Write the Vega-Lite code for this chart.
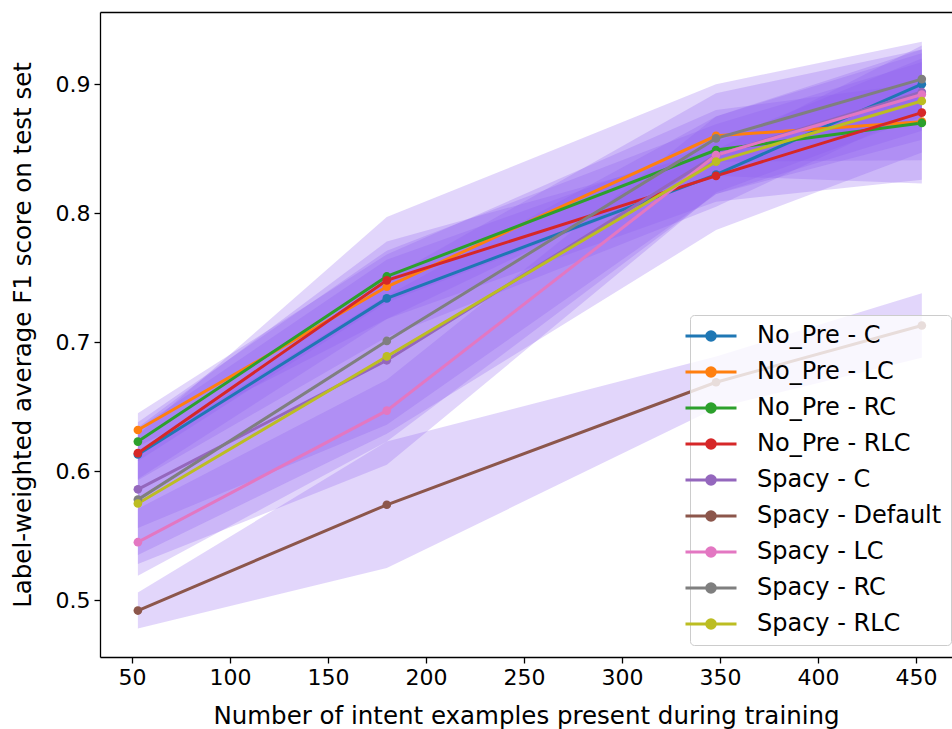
{
  "$schema": "https://vega.github.io/schema/vega-lite/v6.json",
  "width": 852,
  "height": 645,
  "autosize": {"type": "none"},
  "padding": {"left": 100, "top": 12, "right": 0, "bottom": 72},
  "background": "white",
  "config": {
    "view": {"stroke": null},
    "font": "DejaVu Sans",
    "axis": {
      "domainColor": "black", "domainWidth": 1.3, "tickColor": "black", "tickWidth": 1.3, "tickSize": 6,
      "labelColor": "black", "labelFontSize": 22, "titleFontSize": 24.5, "titleFontWeight": "normal",
      "titleColor": "black", "grid": false, "labelFont": "DejaVu Sans", "titleFont": "DejaVu Sans"
    }
  },
  "data": {"values": [
    {"series": "No_Pre - C", "n": 53, "mean": 0.613, "lo": 0.593, "hi": 0.633},
    {"series": "No_Pre - C", "n": 180, "mean": 0.734, "lo": 0.704, "hi": 0.764},
    {"series": "No_Pre - C", "n": 348, "mean": 0.830, "lo": 0.805, "hi": 0.855},
    {"series": "No_Pre - C", "n": 453, "mean": 0.900, "lo": 0.880, "hi": 0.920},
    {"series": "No_Pre - LC", "n": 53, "mean": 0.632, "lo": 0.619, "hi": 0.645},
    {"series": "No_Pre - LC", "n": 180, "mean": 0.743, "lo": 0.718, "hi": 0.768},
    {"series": "No_Pre - LC", "n": 348, "mean": 0.860, "lo": 0.840, "hi": 0.880},
    {"series": "No_Pre - LC", "n": 453, "mean": 0.871, "lo": 0.841, "hi": 0.901},
    {"series": "No_Pre - RC", "n": 53, "mean": 0.623, "lo": 0.608, "hi": 0.638},
    {"series": "No_Pre - RC", "n": 180, "mean": 0.751, "lo": 0.731, "hi": 0.771},
    {"series": "No_Pre - RC", "n": 348, "mean": 0.849, "lo": 0.829, "hi": 0.869},
    {"series": "No_Pre - RC", "n": 453, "mean": 0.870, "lo": 0.823, "hi": 0.917},
    {"series": "No_Pre - RLC", "n": 53, "mean": 0.614, "lo": 0.594, "hi": 0.634},
    {"series": "No_Pre - RLC", "n": 180, "mean": 0.748, "lo": 0.718, "hi": 0.778},
    {"series": "No_Pre - RLC", "n": 348, "mean": 0.829, "lo": 0.809, "hi": 0.849},
    {"series": "No_Pre - RLC", "n": 453, "mean": 0.878, "lo": 0.826, "hi": 0.930},
    {"series": "Spacy - C", "n": 53, "mean": 0.586, "lo": 0.556, "hi": 0.616},
    {"series": "Spacy - C", "n": 180, "mean": 0.686, "lo": 0.636, "hi": 0.736},
    {"series": "Spacy - C", "n": 348, "mean": 0.845, "lo": 0.815, "hi": 0.875},
    {"series": "Spacy - C", "n": 453, "mean": 0.894, "lo": 0.864, "hi": 0.924},
    {"series": "Spacy - Default", "n": 53, "mean": 0.492, "lo": 0.478, "hi": 0.506},
    {"series": "Spacy - Default", "n": 180, "mean": 0.574, "lo": 0.525, "hi": 0.623},
    {"series": "Spacy - Default", "n": 348, "mean": 0.669, "lo": 0.649, "hi": 0.689},
    {"series": "Spacy - Default", "n": 453, "mean": 0.713, "lo": 0.688, "hi": 0.738},
    {"series": "Spacy - LC", "n": 53, "mean": 0.545, "lo": 0.519, "hi": 0.571},
    {"series": "Spacy - LC", "n": 180, "mean": 0.647, "lo": 0.623, "hi": 0.671},
    {"series": "Spacy - LC", "n": 348, "mean": 0.845, "lo": 0.815, "hi": 0.875},
    {"series": "Spacy - LC", "n": 453, "mean": 0.892, "lo": 0.857, "hi": 0.927},
    {"series": "Spacy - RC", "n": 53, "mean": 0.578, "lo": 0.528, "hi": 0.628},
    {"series": "Spacy - RC", "n": 180, "mean": 0.701, "lo": 0.605, "hi": 0.797},
    {"series": "Spacy - RC", "n": 348, "mean": 0.858, "lo": 0.816, "hi": 0.900},
    {"series": "Spacy - RC", "n": 453, "mean": 0.904, "lo": 0.875, "hi": 0.933},
    {"series": "Spacy - RLC", "n": 53, "mean": 0.575, "lo": 0.535, "hi": 0.615},
    {"series": "Spacy - RLC", "n": 180, "mean": 0.689, "lo": 0.629, "hi": 0.749},
    {"series": "Spacy - RLC", "n": 348, "mean": 0.840, "lo": 0.787, "hi": 0.893},
    {"series": "Spacy - RLC", "n": 453, "mean": 0.887, "lo": 0.847, "hi": 0.927}
  ]},
  "layer": [
    {
      "mark": {"type": "area", "color": "#8a5cf0", "opacity": 0.25},
      "encoding": {
        "x": {"field": "n", "type": "quantitative", "scale": {"domain": [33.67, 468.4], "nice": false, "zero": false},
              "axis": {"orient": "bottom", "values": [50, 100, 150, 200, 250, 300, 350, 400, 450], "labelPadding": 4, "titleY": 47, "titleBaseline": "top"},
              "title": "Number of intent examples present during training"},
        "y": {"field": "lo", "type": "quantitative", "scale": {"domain": [0.456, 0.956], "nice": false, "zero": false},
              "axis": {"values": [0.5, 0.6, 0.7, 0.8, 0.9], "format": ".1f", "labelPadding": 4, "titlePadding": 20},
              "title": "Label-weighted average F1 score on test set"},
        "y2": {"field": "hi"},
        "detail": {"field": "series"}
      }
    },
    {
      "mark": {"type": "line", "strokeWidth": 3},
      "encoding": {
        "x": {"field": "n", "type": "quantitative", "axis": {"orient": "top", "labels": false, "ticks": false, "title": null}},
        "y": {"field": "mean", "type": "quantitative", "title": "Label-weighted average F1 score on test set"},
        "color": {
          "field": "series", "type": "nominal",
          "scale": {
            "domain": ["No_Pre - C", "No_Pre - LC", "No_Pre - RC", "No_Pre - RLC", "Spacy - C", "Spacy - Default", "Spacy - LC", "Spacy - RC", "Spacy - RLC"],
            "range": ["#1f77b4", "#ff7f0e", "#2ca02c", "#d62728", "#9467bd", "#8c564b", "#e377c2", "#7f7f7f", "#bcbd22"]
          },
          "legend": {
            "orient": "none", "legendX": 590, "legendY": 303, "title": null,
            "labelFontSize": 24, "labelFont": "DejaVu Sans", "labelColor": "black", "labelLimit": 400,
            "symbolType": "M-2.55,0L2.55,0M-0.43,0A0.43,0.43 0 1,0 0.43,0A0.43,0.43 0 1,0 -0.43,0Z",
            "symbolSize": 400, "symbolStrokeWidth": 3, "labelOffset": 34, "rowPadding": 12,
            "padding": 9, "fillColor": "rgba(255,255,255,0.8)", "strokeColor": "#cccccc", "cornerRadius": 4,
            "encode": {"symbols": {"update": {"fill": {"scale": "color", "field": "value"}, "stroke": {"scale": "color", "field": "value"}, "opacity": {"value": 1}}}}
          }
        }
      }
    },
    {
      "mark": {"type": "point", "filled": true, "size": 75, "opacity": 1},
      "encoding": {
        "x": {"field": "n", "type": "quantitative", "axis": null},
        "y": {"field": "mean", "type": "quantitative", "title": "Label-weighted average F1 score on test set"},
        "color": {"field": "series", "type": "nominal"}
      }
    }
  ],
  "resolve": {"axis": {"x": "independent"}}
}
